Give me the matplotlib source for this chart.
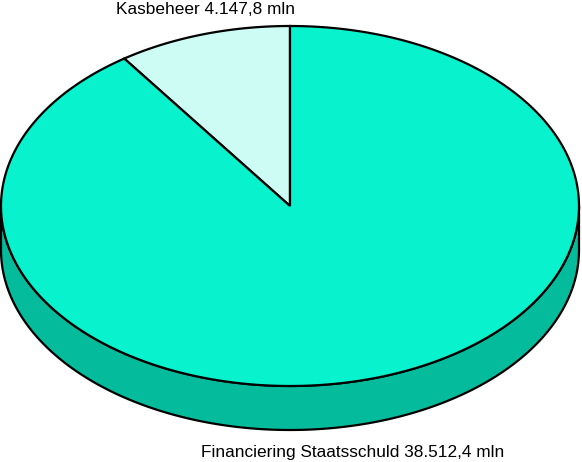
import numpy as np
import matplotlib
matplotlib.use("Agg")
import matplotlib.pyplot as plt
from matplotlib.patches import Polygon

labels = ["Kasbeheer 4.147,8 mln", "Financiering Staatsschuld 38.512,4 mln"]
values = [4147.8, 38512.4]
top_colors = ["#CCFCF4", "#08F2CE"]
side_colors = ["#A0D8CC", "#04BC9C"]

W, H = 582, 462
fig = plt.figure(figsize=(W / 100, H / 100), dpi=100)
ax = fig.add_axes([0, 0, 1, 1])
ax.set_xlim(0, W)
ax.set_ylim(H, 0)
ax.axis("off")

cx, cy = 290, 206
rx, ry = 289, 180
depth = 44
lw = 1.6

def pt(theta_deg, dy=0.0):
    t = np.radians(theta_deg)
    return cx + rx * np.cos(t), cy - ry * np.sin(t) + dy

total = sum(values)
angles = [v / total * 360 for v in values]
start = 90.0
spans = []
for a in angles:
    spans.append((start, start + a))
    start += a

# side walls (front half: 180..360 deg)
for (a0, a1), sc in zip(spans, side_colors):
    for shift in (0, 360, -360):
        lo = max(a0 + shift, 180)
        hi = min(a1 + shift, 360)
        if hi > lo:
            th = np.linspace(lo, hi, 200)
            xs, ys = pt(th)
            xb, yb = pt(th[::-1], depth)
            poly = np.column_stack([np.concatenate([xs, xb]), np.concatenate([ys, yb])])
            ax.add_patch(Polygon(poly, closed=True, facecolor=sc, edgecolor="black", lw=lw, joinstyle="round"))

# top wedges
for (a0, a1), tc in zip(spans, top_colors):
    th = np.linspace(a0, a1, 400)
    xs, ys = pt(th)
    poly = np.column_stack([np.concatenate([[cx], xs]), np.concatenate([[cy], ys])])
    ax.add_patch(Polygon(poly, closed=True, facecolor=tc, edgecolor="black", lw=lw, joinstyle="miter"))

font = dict(family=["Liberation Sans", "DejaVu Sans"], fontsize=12.4, color="black")
ax.text(116, 9, labels[0], ha="left", va="center", **font)
ax.text(201, 452, labels[1], ha="left", va="center", **font)

fig.savefig("out.png", dpi=100)
